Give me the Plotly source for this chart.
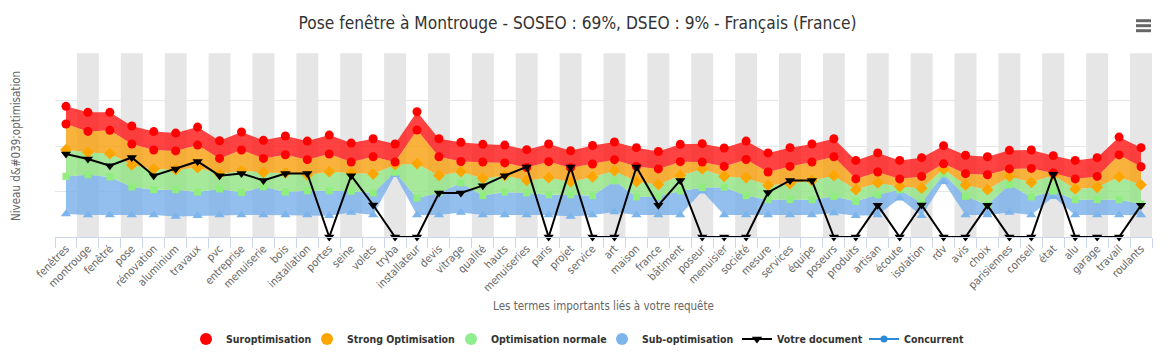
import plotly.graph_objects as go

categories = ["fenêtres", "montrouge", "fenêtré", "pose", "rénovation", "aluminium", "travaux", "pvc",
              "entreprise", "menuiserie", "bois", "installation", "portes", "seine", "volets", "tryba",
              "installateur", "devis", "vitrage", "qualité", "hauts", "menuiseries", "paris", "projet",
              "service", "art", "maison", "france", "bâtiment", "poseur", "menuisier", "société", "mesure",
              "services", "équipe", "poseurs", "produits", "artisan", "écoute", "isolation", "rdv", "avis",
              "choix", "parisiennes", "conseil", "état", "alu", "garage", "travail", "roulants"]

# Suroptimisation range: [sur_low, sur_high]
sur_high = [71.8, 68.5, 68.5, 61.0, 57.9, 57.1, 60.4, 52.9, 57.7, 53.1, 55.5, 52.7, 56.0, 51.6, 54.0, 51.1,
            68.8, 54.0, 52.0, 50.9, 50.5, 48.0, 51.1, 47.4, 50.3, 52.2, 49.1, 47.0, 50.9, 51.3, 48.9, 52.7,
            46.2, 49.1, 51.1, 54.0, 42.1, 46.2, 42.1, 43.6, 50.2, 44.9, 44.1, 47.6, 47.8, 44.7, 42.1, 43.6,
            54.9, 49.1]
sur_low = [62.1, 58.0, 58.6, 51.1, 47.8, 47.3, 50.5, 43.2, 47.8, 43.2, 45.2, 42.5, 45.6, 41.2, 44.1, 41.2,
           58.8, 44.1, 41.5, 41.2, 40.7, 38.2, 41.4, 38.1, 40.1, 42.5, 38.8, 37.4, 41.4, 41.2, 38.8, 42.6,
           35.7, 38.8, 41.2, 44.1, 31.9, 35.7, 31.9, 33.3, 40.2, 34.8, 34.2, 37.4, 37.7, 35.2, 31.9, 33.3,
           45.1, 38.6]
# Strong Optimisation range: [strong_low, sur_low]
strong_low = [48.0, 46.5, 45.8, 39.6, 37.4, 37.0, 38.1, 34.6, 36.4, 35.5, 35.2, 34.1, 35.9, 35.2, 34.6, 39.7,
              40.3, 33.8, 35.9, 32.2, 33.7, 31.1, 32.6, 30.4, 33.0, 36.4, 30.4, 28.9, 33.8, 37.4, 33.3, 32.6,
              28.4, 29.3, 31.1, 33.7, 26.0, 29.7, 27.8, 26.8, 37.3, 28.6, 26.0, 33.3, 30.0, 34.0, 26.4, 27.3,
              33.0, 28.7]
# Optimisation normale range: [normal_low, strong_low]
normal_low = [33.3, 34.2, 33.0, 27.5, 26.0, 26.0, 24.7, 26.4, 24.5, 27.6, 24.7, 25.4, 25.4, 25.1, 24.2, 35.6,
              21.4, 24.2, 29.7, 22.7, 24.7, 24.2, 23.2, 23.2, 22.7, 30.8, 22.0, 22.3, 25.3, 27.1, 27.3, 22.7,
              20.5, 20.5, 20.5, 22.3, 19.6, 23.2, 26.0, 18.7, 34.8, 22.3, 17.7, 28.7, 22.0, 25.2, 20.5, 20.5,
              20.5, 18.1]
# Sub-optimisation range: [sub_low, normal_low]
sub_low = [12.6, 12.1, 12.1, 12.1, 12.1, 11.3, 11.7, 12.1, 12.1, 12.1, 12.1, 12.1, 11.7, 13.5, 12.1, 34.2,
           12.1, 12.1, 13.5, 12.1, 12.1, 12.1, 12.1, 11.3, 12.1, 13.7, 12.1, 12.1, 12.1, 25.2, 12.1, 12.1,
           12.1, 12.1, 12.1, 13.2, 11.7, 12.1, 21.3, 11.7, 30.4, 12.1, 12.1, 13.5, 12.1, 22.1, 12.1, 12.1,
           12.1, 12.1]
votre_document = [45.6, 42.9, 39.2, 43.7, 33.7, 37.4, 41.5, 33.7, 34.9, 31.1, 34.9, 34.9, 0, 33.7, 17.6, 0,
                  0, 24.2, 24.2, 28.2, 33.7, 38.5, 0, 38.5, 0, 0, 38.5, 17.4, 31.1, 0, 0, 0,
                  24.5, 31.1, 31.1, 0, 0, 17.4, 0, 17.6, 0, 0, 17.4, 0, 0, 34.5, 0, 0,
                  0, 17.4]
concurrent = []

title_text = "Pose fenêtre à Montrouge - SOSEO : 69%, DSEO : 9% - Français (France)"
x_title = "Les termes importants liés à votre requête"
y_title = "Niveau d&amp;#039;optimisation"

FONT = "DejaVu Sans Condensed, DejaVu Sans, sans-serif"
# the page body adds an 8px margin: figure coordinates = screen - 8
OFF = 8
W, H = 1175 - OFF, 357 - OFF
ML, MR, MT, MB = 55 - OFF, 23, 55 - OFF, 120
PW, PH = W - ML - MR, H - MT - MB

fig = go.Figure()

bands = [
    ("Sub-optimisation", sub_low, normal_low, "rgba(119,175,234,0.8)"),
    ("Optimisation normale", normal_low, strong_low, "rgba(144,228,129,0.8)"),
    ("Strong Optimisation", strong_low, sur_low, "rgba(247,159,10,0.8)"),
    ("Suroptimisation", sur_low, sur_high, "rgba(255,19,19,0.8)"),
]
for name, lo, hi, fc in bands:
    fig.add_trace(go.Scatter(x=categories, y=lo, mode="lines", line=dict(width=0),
                             showlegend=False, hoverinfo="skip"))
    fig.add_trace(go.Scatter(x=categories, y=hi, mode="lines", line=dict(width=0),
                             fill="tonexty", fillcolor=fc, showlegend=False, name=name))

# markers
fig.add_trace(go.Scatter(x=categories, y=sub_low, mode="markers", showlegend=False,
                         marker=dict(symbol="triangle-up", size=9, color="#7cb5ec")))
fig.add_trace(go.Scatter(x=categories, y=normal_low, mode="markers", showlegend=False,
                         marker=dict(symbol="square", size=7, color="#90ee7e")))
fig.add_trace(go.Scatter(x=categories, y=strong_low, mode="markers", showlegend=False,
                         marker=dict(symbol="diamond", size=9, color="#ffa500")))
fig.add_trace(go.Scatter(x=categories, y=sur_low, mode="markers", showlegend=False,
                         marker=dict(symbol="circle", size=9, color="#ff0000")))
fig.add_trace(go.Scatter(x=categories, y=sur_high, mode="markers", showlegend=False,
                         marker=dict(symbol="circle", size=9, color="#ff0000")))

fig.add_trace(go.Scatter(x=categories, y=votre_document, mode="lines+markers", name="Votre document",
                         line=dict(color="#000000", width=2), cliponaxis=False, showlegend=False,
                         marker=dict(symbol="triangle-down", size=9, color="#000000")))

# legend entries (one legend per entry, placed like the original); last value = symbol centre on screen
legend_items = [
    ("Suroptimisation", "markers", "#ff0000", "circle", 12, 206),
    ("Strong Optimisation", "markers", "#ffa500", "circle", 12, 327),
    ("Optimisation normale", "markers", "#90ee90", "circle", 12, 471),
    ("Sub-optimisation", "markers", "#7cb5ec", "circle", 12, 622),
    ("Votre document", "lines+markers", "#000000", "triangle-down", 9, 757),
    ("Concurrent", "lines+markers", "#2b8ad8", "circle", 7, 884),
]
legend_layouts = {}
for k, (name, mode, col, sym, sz, cx) in enumerate(legend_items):
    lname = "legend" if k == 0 else f"legend{k + 1}"
    ys = concurrent if (name == "Concurrent" and concurrent) else [None]
    fig.add_trace(go.Scatter(x=[None] * len(ys), y=ys, mode=mode, name=name, legend=lname,
                             line=dict(color=col, width=2),
                             marker=dict(symbol=sym, size=sz, color=col)))
    legend_layouts[lname] = dict(
        xref="container", yref="container", x=(cx - OFF - 20) / W, xanchor="left",
        y=1 - (339 - OFF) / H, yanchor="middle", bgcolor="rgba(0,0,0,0)", borderwidth=0,
        font=dict(size=10.5, color="#333333", family=FONT, weight="bold"), itemwidth=30)

# alternating plot bands
shapes = []
for i in range(len(categories)):
    if i % 2 == 1:
        shapes.append(dict(type="rect", xref="x", yref="paper", x0=i - 0.5, x1=i + 0.5, y0=0, y1=1.01,
                           fillcolor="#e6e6e6", line=dict(width=0), layer="between"))
# export menu icon
for py in (21, 26, 31):
    shapes.append(dict(type="line", xref="paper", yref="paper",
                       x0=(1136 - 55) / PW, x1=(1151 - 55) / PW,
                       y0=(237.3 - py) / PH, y1=(237.3 - py) / PH,
                       line=dict(color="#666666", width=3)))

fig.add_annotation(text=y_title, xref="paper", yref="paper", x=(16 - 55) / PW, y=0.5,
                   xanchor="center", yanchor="middle", textangle=-90, showarrow=False, borderpad=0,
                   font=dict(size=11.5, color="#666666", family=FONT))

fig.update_layout(
    width=W, height=H,
    margin=dict(l=ML, r=MR, t=MT, b=MB, autoexpand=False),
    paper_bgcolor="white", plot_bgcolor="white",
    font=dict(family=FONT, color="#666666"),
    title=dict(text=title_text, x=(577.5 - OFF) / W, xanchor="center", y=1 - 15 / H, yanchor="middle",
               font=dict(size=17.2, color="#333333", family=FONT)),
    shapes=shapes,
    showlegend=True,
    xaxis=dict(type="category", tickangle=-45, tickson="boundaries", ticks="outside", ticklen=10,
               tickcolor="#ccd6eb", showline=True, linecolor="#ccd6eb", linewidth=1, showgrid=False,
               zeroline=False, tickfont=dict(size=11, color="#666666", family=FONT), automargin=False,
               range=[-0.5, len(categories) - 0.5],
               title=dict(text=x_title, font=dict(size=11.5, color="#666666", family=FONT), standoff=8)),
    yaxis=dict(range=[0, 100], tickvals=[0, 25, 50, 75, 100], showticklabels=False, showgrid=True,
               gridcolor="#e6e6e6", gridwidth=1, zeroline=False, showline=False, automargin=False),
    hovermode=False,
    **legend_layouts,
)

fig.write_html("out.html")
